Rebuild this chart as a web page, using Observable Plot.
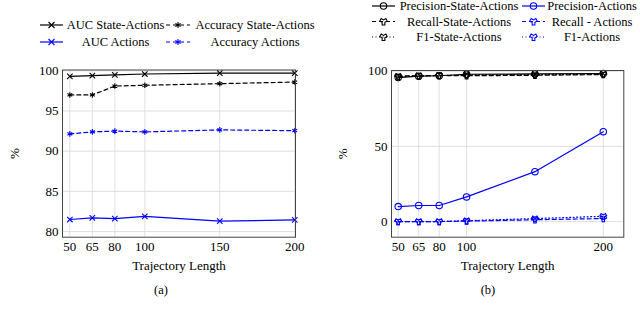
<!DOCTYPE html>
<html>
<head>
<meta charset="utf-8">
<script src="https://cdn.jsdelivr.net/npm/d3@7"></script>
<script src="https://cdn.jsdelivr.net/npm/@observablehq/plot@0.6"></script>
<style>
  html, body { margin: 0; padding: 0; background: #fff; }
  #wrap { position: relative; width: 640px; height: 314px; overflow: hidden; font-family: "Liberation Serif", "DejaVu Serif", serif; }
  #wrap > svg { position: absolute; top: 0; }
  #wrap svg, #wrap svg text, #wrap svg g { font-family: "Liberation Serif", "DejaVu Serif", serif !important; }
</style>
</head>
<body>
<div id="wrap"></div>
<script>
// ---------- data ----------
const lengths = [50, 65, 80, 100, 150, 200];

// panel (a)
const aucStateActions = [99.3, 99.4, 99.5, 99.6, 99.7, 99.7];
const accStateActions = [97.0, 97.0, 98.1, 98.2, 98.4, 98.6];
const aucActions      = [81.5, 81.7, 81.6, 81.9, 81.3, 81.45];
const accActions      = [92.15, 92.4, 92.5, 92.4, 92.65, 92.55];
const ticksXA = [50, 65, 80, 100, 150, 200];
const ticksYA = [80, 85, 90, 95, 100];

// panel (b)
const precStateActions   = [95.8, 96.7, 97.0, 98.0, 98.2, 98.5];
const recallStateActions = [96.8, 97.0, 97.2, 97.0, 97.3, 97.8];
const f1StateActions     = [96.3, 96.9, 97.1, 97.5, 97.8, 98.1];
const precActions        = [10.0, 10.7, 10.7, 16.4, 33.2, 59.8];
const recallActions      = [0.0, 0.0, 0.0, 0.3, 1.2, 2.0];
const f1Actions          = [0.0, 0.0, 0.0, 0.6, 2.0, 3.5];
const ticksXB = [50, 65, 80, 100, 200];
const ticksYB = [0, 50, 100];

const BLUE = "#0000ff";
const FONT = "Liberation Serif";

const seriesA = [
  {name: "AUC State-Actions",      values: aucStateActions, color: "#000", dash: null,  symbol: "times"},
  {name: "Accuracy State-Actions", values: accStateActions, color: "#000", dash: "4,3", symbol: "asterisk"},
  {name: "AUC Actions",            values: aucActions,      color: BLUE,   dash: null,  symbol: "times"},
  {name: "Accuracy Actions",       values: accActions,      color: BLUE,   dash: "4,3", symbol: "asterisk"}
];
const seriesB = [
  {name: "Precision-State-Actions", values: precStateActions,   color: "#000", dash: null,    symbol: "circle"},
  {name: "Precision-Actions",       values: precActions,        color: BLUE,   dash: null,    symbol: "circle"},
  {name: "Recall-State-Actions",    values: recallStateActions, color: "#000", dash: "4,3",   symbol: "wye"},
  {name: "Recall - Actions",        values: recallActions,      color: BLUE,   dash: "4,3",   symbol: "wye"},
  {name: "F1-State-Actions",        values: f1StateActions,     color: "#000", dash: "1,2.5", symbol: "wye"},
  {name: "F1-Actions",              values: f1Actions,          color: BLUE,   dash: "1,2.5", symbol: "wye"}
];

function rows(vals) { return lengths.map((x, i) => ({x, y: vals[i]})); }

function seriesMarks(series) {
  const m = [];
  for (const s of series) {
    const d = rows(s.values);
    m.push(Plot.line(d, {x: "x", y: "y", stroke: s.color, strokeWidth: 1.2, strokeDasharray: s.dash || undefined}));
    m.push(Plot.dot(d, {x: "x", y: "y", stroke: s.color, fill: "none", symbol: s.symbol, r: s.symbol === "circle" ? 3.2 : 2.6, strokeWidth: 1.1}));
  }
  return m;
}

function panel(opts) {
  return Plot.plot({
    width: 320, height: 314,
    marginLeft: opts.ml, marginRight: opts.mr, marginTop: opts.mt, marginBottom: opts.mb,
    style: {fontFamily: FONT, fontSize: "13px", background: "transparent", color: "#000"},
    x: {domain: opts.xd},
    y: {domain: opts.yd},
    marks: [
      Plot.gridX(opts.tx, {stroke: "#d8d8d8", strokeOpacity: 1, strokeWidth: 0.8}),
      Plot.gridY(opts.ty, {stroke: "#d8d8d8", strokeOpacity: 1, strokeWidth: 0.8}),
      Plot.axisX(opts.tx, {tickSize: 0, tickPadding: 5, fontSize: 13, fontFamily: FONT, label: "Trajectory Length", labelAnchor: "center", labelOffset: 33, labelArrow: "none"}),
      Plot.axisY(opts.ty, {tickSize: 0, tickPadding: 4, fontSize: 13, fontFamily: FONT, label: "%", labelAnchor: "center", labelOffset: opts.lo, labelArrow: "none"}),
      ...seriesMarks(opts.series),
      Plot.frame({stroke: "#444", strokeWidth: 1})
    ]
  });
}

const wrap = document.getElementById("wrap");

const left = panel({ml: 62, mr: 25, mt: 69.5, mb: 77.3, xd: [45.1, 200.5], yd: [79.3, 100.1],
                    tx: ticksXA, ty: ticksYA, series: seriesA, lo: 53});
left.style.left = "0px";
wrap.appendChild(left);

const right = panel({ml: 71, mr: 16.7, mt: 70, mb: 77.3, xd: [45.1, 215], yd: [-10.4, 100.5],
                     tx: ticksXB, ty: ticksYB, series: seriesB, lo: 54});
right.style.left = "320px";
wrap.appendChild(right);

// ---------- legends ----------
const ov = d3.select(wrap).append("svg")
  .attr("width", 640).attr("height", 314)
  .attr("font-family", FONT).attr("font-size", 12.5)
  .style("left", "0px");

function legendEntry(s, x0, x1, tx, y) {
  const g = ov.append("g");
  g.append("line").attr("x1", x0).attr("x2", x1).attr("y1", y).attr("y2", y)
    .attr("stroke", s.color).attr("stroke-width", 1.2)
    .attr("stroke-dasharray", s.dash || null);
  const sym = d3.symbol(
    {times: d3.symbolTimes, asterisk: d3.symbolAsterisk, circle: d3.symbolCircle, wye: d3.symbolWye}[s.symbol],
    s.symbol === "circle" ? Math.PI * 3.2 * 3.2 : 25)();
  g.append("path").attr("d", sym).attr("transform", `translate(${(x0 + x1) / 2},${y})`)
    .attr("fill", "none").attr("stroke", s.color).attr("stroke-width", 1.1);
  g.append("text").attr("x", tx).attr("y", y).attr("dy", "0.35em")
    .attr("text-anchor", "middle").text(s.name);
}
// panel (a) legend: 2 columns x 2 rows
legendEntry(seriesA[0], 40, 63, 115.5, 25);
legendEntry(seriesA[1], 166, 190, 255, 25);
legendEntry(seriesA[2], 40, 63, 115.5, 42);
legendEntry(seriesA[3], 166, 190, 255, 42);
// panel (b) legend: 2 columns x 3 rows
legendEntry(seriesB[0], 372, 395, 459, 6);
legendEntry(seriesB[1], 522, 545, 592, 6);
legendEntry(seriesB[2], 372, 395, 459, 21.5);
legendEntry(seriesB[3], 522, 545, 592, 21.5);
legendEntry(seriesB[4], 372, 395, 459, 37);
legendEntry(seriesB[5], 522, 545, 592, 37);

// sub-captions
ov.append("text").attr("x", 161).attr("y", 290).attr("dy", "0.35em").attr("text-anchor", "middle").text("(a)");
ov.append("text").attr("x", 488).attr("y", 290).attr("dy", "0.35em").attr("text-anchor", "middle").text("(b)");
</script>
</body>
</html>
